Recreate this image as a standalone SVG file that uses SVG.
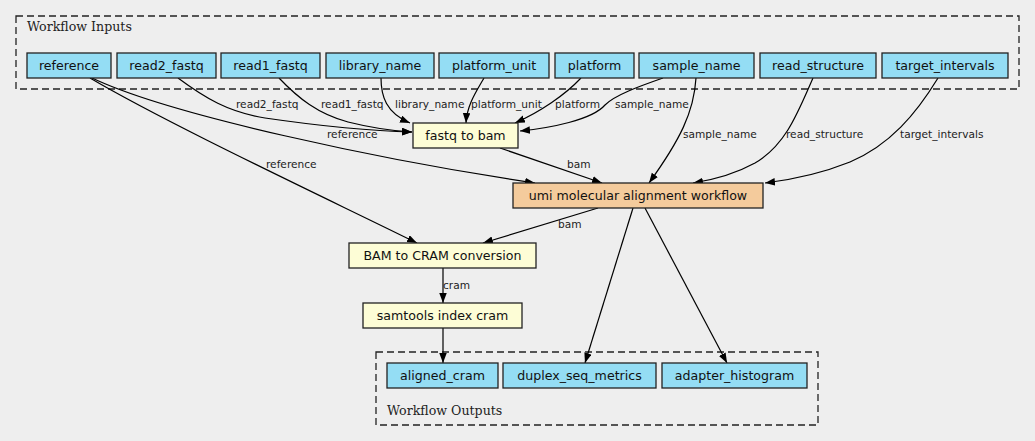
<svg xmlns="http://www.w3.org/2000/svg" width="1035" height="441" viewBox="0 0 1035 441">
<style>
.bg{fill:#eeeeee}
.cl{fill:none;stroke:#222;stroke-width:1.3;stroke-dasharray:7,4}
.ct{font-family:"DejaVu Serif",serif;font-size:12.6px;fill:#222}
.io rect{fill:#94ddf4;stroke:#222;stroke-width:1.3}
.st rect{fill:#fdfdd6;stroke:#222;stroke-width:1.3}
.wf rect{fill:#f4cb9c;stroke:#222;stroke-width:1.3}
.nt{font-family:"DejaVu Sans",sans-serif;font-size:12.6px;fill:#111;text-anchor:middle}
.e path{fill:none;stroke:#000;stroke-width:1.2;marker-end:url(#ah)}
.el{font-family:"DejaVu Sans",sans-serif;font-size:10.6px;fill:#222}
</style>
<defs>
<marker id="ah" markerUnits="userSpaceOnUse" markerWidth="11" markerHeight="8" refX="10" refY="3.75" orient="auto">
<path d="M0,0 L10,3.75 L0,7.5 z" fill="#000"/>
</marker>
</defs>
<rect class="bg" x="0" y="0" width="1035" height="441"/>
<g id="cluster_inputs">
<rect class="cl" x="16" y="16" width="1003" height="73"/>
<text class="ct" x="27" y="31">Workflow Inputs</text>
</g>
<g id="cluster_outputs">
<rect class="cl" x="376" y="352" width="442" height="73"/>
<text class="ct" x="387" y="415">Workflow Outputs</text>
</g>
<g id="connectors" class="e">
<path d="M90,78 C170,125 330,200 417,243"/>
<path d="M92,78 C170,115 380,160 535,183"/>
<path d="M178,78 C205,98 228,112 265,118 C320,126 370,131 412,132"/>
<path d="M279,78 C298,98 318,114 348,122 C372,128 394,131 412,132"/>
<path d="M381,78 C381,96 386,113 410,123"/>
<path d="M484,78 C476,92 467,105 466,123"/>
<path d="M581,78 C565,95 540,112 515,123"/>
<path d="M663,78 C640,86 615,95 605,105 C592,120 550,128 520,131"/>
<path d="M696,78 C694,112 680,140 649,183"/>
<path d="M813,78 C798,112 786,145 755,163 C735,174 712,180 693,183"/>
<path d="M938,78 C916,114 890,145 850,162 C820,174 790,180 765,183"/>
<path d="M500,148 L602,183"/>
<path d="M598,208 L483,243"/>
<path d="M443,268 L443,303"/>
<path d="M443,328 L443,363"/>
<path d="M633,208 L585,363"/>
<path d="M645,208 L727,363"/>
<text class="el" x="236" y="108">read2_fastq</text>
<text class="el" x="321" y="108">read1_fastq</text>
<text class="el" x="395" y="108">library_name</text>
<text class="el" x="471" y="108">platform_unit</text>
<text class="el" x="555" y="108">platform</text>
<text class="el" x="615" y="108">sample_name</text>
<text class="el" x="327" y="138">reference</text>
<text class="el" x="683" y="138">sample_name</text>
<text class="el" x="786" y="138">read_structure</text>
<text class="el" x="900" y="138">target_intervals</text>
<text class="el" x="266" y="168">reference</text>
<text class="el" x="567" y="168">bam</text>
<text class="el" x="558" y="228">bam</text>
<text class="el" x="443" y="289">cram</text>
</g>
<g id="in_reference" class="io"><rect x="27" y="53" width="84" height="25"/><text class="nt" x="69" y="70">reference</text></g>
<g id="in_read2_fastq" class="io"><rect x="117" y="53" width="99" height="25"/><text class="nt" x="166.5" y="70">read2_fastq</text></g>
<g id="in_read1_fastq" class="io"><rect x="221" y="53" width="99" height="25"/><text class="nt" x="270.5" y="70">read1_fastq</text></g>
<g id="in_library_name" class="io"><rect x="326" y="53" width="108" height="25"/><text class="nt" x="380" y="70">library_name</text></g>
<g id="in_platform_unit" class="io"><rect x="439" y="53" width="110" height="25"/><text class="nt" x="494" y="70">platform_unit</text></g>
<g id="in_platform" class="io"><rect x="555" y="53" width="79" height="25"/><text class="nt" x="594.5" y="70">platform</text></g>
<g id="in_sample_name" class="io"><rect x="639" y="53" width="115" height="25"/><text class="nt" x="696.5" y="70">sample_name</text></g>
<g id="in_read_structure" class="io"><rect x="760" y="53" width="116" height="25"/><text class="nt" x="818" y="70">read_structure</text></g>
<g id="in_target_intervals" class="io"><rect x="882" y="53" width="126" height="25"/><text class="nt" x="945" y="70">target_intervals</text></g>
<g id="fastq_to_bam" class="st"><rect x="413" y="123" width="105" height="25"/><text class="nt" x="465.5" y="140">fastq to bam</text></g>
<g id="umi_workflow" class="wf"><rect x="513" y="183" width="250" height="25"/><text class="nt" x="638" y="200">umi molecular alignment workflow</text></g>
<g id="bam_to_cram" class="st"><rect x="349" y="243" width="187" height="25"/><text class="nt" x="442.5" y="260">BAM to CRAM conversion</text></g>
<g id="samtools_index" class="st"><rect x="363" y="303" width="159" height="25"/><text class="nt" x="442.5" y="320">samtools index cram</text></g>
<g id="out_aligned_cram" class="io"><rect x="387" y="363" width="111" height="25"/><text class="nt" x="442.5" y="380">aligned_cram</text></g>
<g id="out_duplex_seq_metrics" class="io"><rect x="503" y="363" width="153" height="25"/><text class="nt" x="579.5" y="380">duplex_seq_metrics</text></g>
<g id="out_adapter_histogram" class="io"><rect x="662" y="363" width="145" height="25"/><text class="nt" x="734.5" y="380">adapter_histogram</text></g>
</svg>
